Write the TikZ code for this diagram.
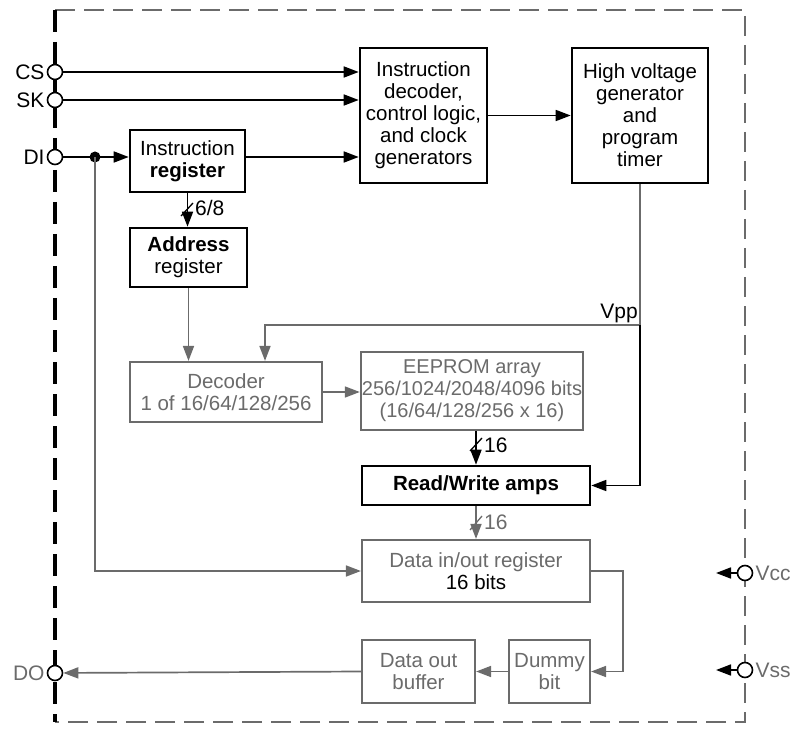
\documentclass[tikz,border=0pt]{standalone}
\usepackage{fontspec}
\setmainfont{Liberation Sans}
\usetikzlibrary{arrows.meta}
\definecolor{fade}{gray}{0.42}

\begin{document}
\begin{tikzpicture}[x=1pt, y=-1pt,
    every node/.style={font=\fontsize{20.5}{22}\selectfont},
    box/.style={draw=black, line width=2.6pt, fill=white, align=center, inner sep=1pt},
    gbox/.style={draw=fade, line width=2.2pt, fill=white, text=fade, align=center, inner sep=1pt},
    pad/.style={circle, draw=black, line width=1.6pt, fill=white, minimum size=15pt, inner sep=0pt},
    lbl/.style={font=\fontsize{21}{22}\selectfont, inner sep=2pt},
    sig/.style={line width=1.7pt, -{Triangle[length=15pt, width=11pt]}},
    gsig/.style={sig, draw=fade},
    bus/.style={line width=1.3pt}]
    \useasboundingbox (0,0) rectangle (809,738);

    % Package outline
    \draw[fade, line width=1.6pt, dash pattern=on 20pt off 9pt] (55,10) -- (745,10) -- (745,722) -- (55,722);
    \draw[line width=3.6pt, dash pattern=on 22pt off 10pt] (55,10) -- (55,722);

    % Blocks
    \node[box, minimum width=127, minimum height=135] (idec) at (423.5,115.5)
        {Instruction\\decoder,\\control logic,\\and clock\\generators};
    \node[box, minimum width=136, minimum height=135] (hvg) at (640,115.5)
        {High voltage\\generator\\and\\program\\timer};
    \node[box, minimum width=115, minimum height=62] (ireg) at (187.5,161)
        {Instruction\\\textbf{register}};
    \node[box, minimum width=117, minimum height=59] (areg) at (188.5,257.5)
        {\textbf{Address}\\register};
    \node[gbox, minimum width=192, minimum height=60] (dec) at (226,392)
        {Decoder\\1 of 16/64/128/256};
    \node[gbox, minimum width=222, minimum height=78, font=\fontsize{20}{22}\selectfont] (eep) at (472,391)
        {EEPROM array\\256/1024/2048/4096 bits\\(16/64/128/256 x 16)};
    \node[box, minimum width=228, minimum height=39] (rw) at (476,485.5)
        {\textbf{Read/Write amps}};
    \node[gbox, minimum width=228, minimum height=62] (dio) at (476,571)
        {Data in/out register\\\textcolor{black}{16 bits}};
    \node[gbox, minimum width=113, minimum height=63] (dob) at (418.5,671.5)
        {Data out\\buffer};
    \node[gbox, minimum width=81, minimum height=63] (dum) at (549.5,671.5)
        {Dummy\\bit};

    % Pins
    \node[pad, label={[lbl]left:CS}] (cs) at (55,72) {};
    \node[pad, label={[lbl]left:SK}] (sk) at (55,100) {};
    \node[pad, label={[lbl]left:DI}] (di) at (55,157) {};
    \node[pad, label={[lbl, text=fade]left:DO}] (do) at (55,673) {};
    \node[pad, label={[lbl, text=fade]right:Vcc}] (vcc) at (745,573) {};
    \node[pad, label={[lbl, text=fade]right:Vss}] (vss) at (745,670) {};
    \coordinate (vccend) at (716,573);
    \coordinate (vssend) at (716,670);

    % Control inputs
    \draw[sig] (cs) -- (cs -| idec.west);
    \draw[sig] (sk) -- (sk -| idec.west);
    \draw[sig] (di) -- (di -| ireg.west);
    \draw[sig] (di -| ireg.east) -- (di -| idec.west);
    \draw[sig] (idec.east) -- (hvg.west);
    \coordinate (split) at (95,157);
    \fill (split) circle (5.5pt);
    \draw[gsig] (split) |- (dio.west);

    % Address path
    \draw[sig] (ireg.south) -- (ireg.south |- areg.north);
    \draw[bus] (181,216) -- (193,203);
    \node[lbl, right] at (193,208) {6/8};
    \draw[gsig] (areg.south) -- (areg.south |- dec.north);
    \draw[gsig] (dec.east) -- (dec.east -| eep.west);

    % Vpp
    \coordinate (vpp) at (640,325);
    \draw[fade, line width=1.7pt] (hvg.south) -- (vpp);
    \node[lbl, above left] at (vpp) {Vpp};
    \draw[gsig] (vpp) -| ([xshift=39pt]dec.north);
    \draw[sig] (vpp) |- (rw.east);

    % Data path
    \draw[sig] (eep.south -| rw.north) -- (rw.north);
    \draw[bus] (470,451) -- (482,438);
    \node[lbl, right] at (482,445) {16};
    \draw[gsig] (rw.south) -- (dio.north);
    \draw[bus, fade] (470,530) -- (482,516);
    \node[lbl, right, text=fade] at (482,522) {16};
    \draw[gsig] (dio.east) -- ++(32,0) |- (dum.east);
    \draw[gsig] (dum.west) -- (dob.east);
    \draw[gsig] (dob.west) -- (do);

    % Supply
    \draw[sig] (vcc) -- (vccend);
    \draw[sig] (vss) -- (vssend);
\end{tikzpicture}
\end{document}
